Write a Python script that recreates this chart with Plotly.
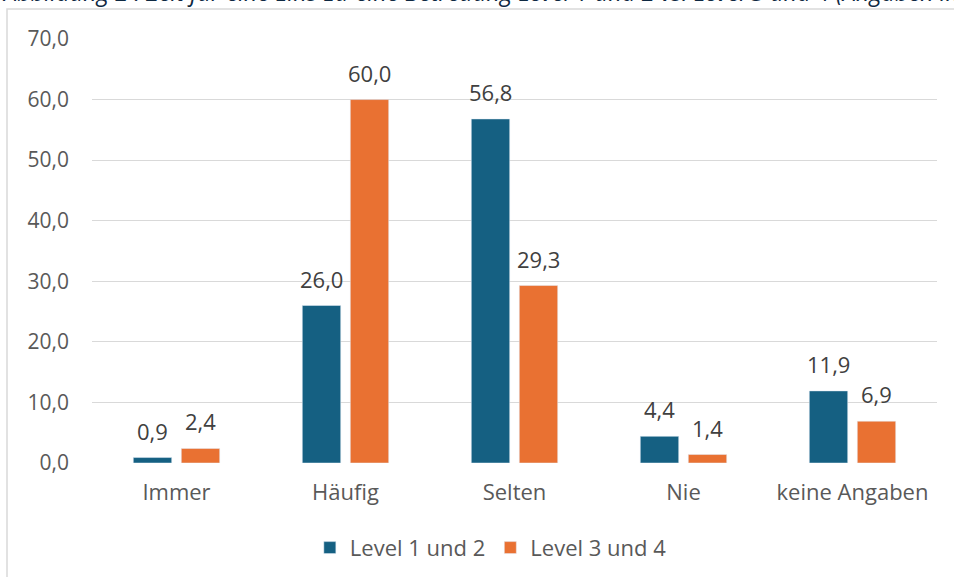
import plotly.graph_objects as go

categories = ["Immer", "Häufig", "Selten", "Nie", "keine Angaben"]
series_names = ["Level 1 und 2", "Level 3 und 4"]
level_1_2 = [0.9, 26.0, 56.8, 4.4, 11.9]
level_3_4 = [2.4, 60.0, 29.3, 1.4, 6.9]
y_ticks = [0, 10, 20, 30, 40, 50, 60, 70]
title_text = "Abbildung 2 : Zeit für eine Eins-zu-eine Betreuung Level 1 und 2 vs. Level 3 und 4 (Angaben in"

colors = ["#156082", "#E97132"]
FONT = "Open Sans, Lato, sans-serif"
GREY = "#595959"
FS = 22
offsets = [-24, 24]

fig = go.Figure()
annotations = []
for name, vals, col, off in zip(series_names, [level_1_2, level_3_4], colors, offsets):
    fig.add_trace(go.Bar(x=categories, y=vals, name=name, marker_color=col))
    for c, v in zip(categories, vals):
        annotations.append(dict(
            x=c, y=v, xref="x", yref="y", xshift=off, yshift=10,
            text=f"{v:.1f}".replace(".", ","), showarrow=False,
            xanchor="center", yanchor="bottom",
            font=dict(size=FS, color="#404040", family=FONT)))

annotations.append(dict(text="<i>" + title_text + "</i>", xref="paper", yref="paper",
                        x=-0.109, y=1.068, xanchor="left", yanchor="bottom", showarrow=False,
                        font=dict(size=23.5, color="#0E2841", family=FONT)))

fig.update_layout(
    width=954, height=577,
    margin=dict(l=92, r=17, t=39, b=114, autoexpand=False),
    paper_bgcolor="white", plot_bgcolor="white",
    separators=",.",
    barmode="group", bargap=0.432, bargroupgap=0.2,
    font=dict(family=FONT, size=FS, color=GREY),
    showlegend=True,
    legend=dict(orientation="h", x=0.472, xanchor="center", y=-0.2, yanchor="middle",
                font=dict(size=FS, color=GREY), traceorder="normal", itemwidth=30),
    xaxis=dict(showgrid=False, showline=False, ticks="", automargin=False,
               ticklabelstandoff=14, tickfont=dict(size=FS, color=GREY)),
    yaxis=dict(range=[0, 70], tickvals=y_ticks, tickformat=".1f", showgrid=True,
               gridcolor="#D9D9D9", gridwidth=1.3, zeroline=False, showline=False,
               automargin=False, ticklabelstandoff=22,
               tickfont=dict(size=21, color=GREY)),
    shapes=[dict(type="rect", xref="paper", yref="paper", x0=-0.1006, x1=1.1,
                 y0=-0.4, y1=1.0708, line=dict(color="#D9D9D9", width=1.5),
                 fillcolor="rgba(0,0,0,0)", layer="below")],
    annotations=annotations,
)

fig.write_html("out.html", config={"displayModeBar": False},
               post_script="document.body.style.margin='0';")
